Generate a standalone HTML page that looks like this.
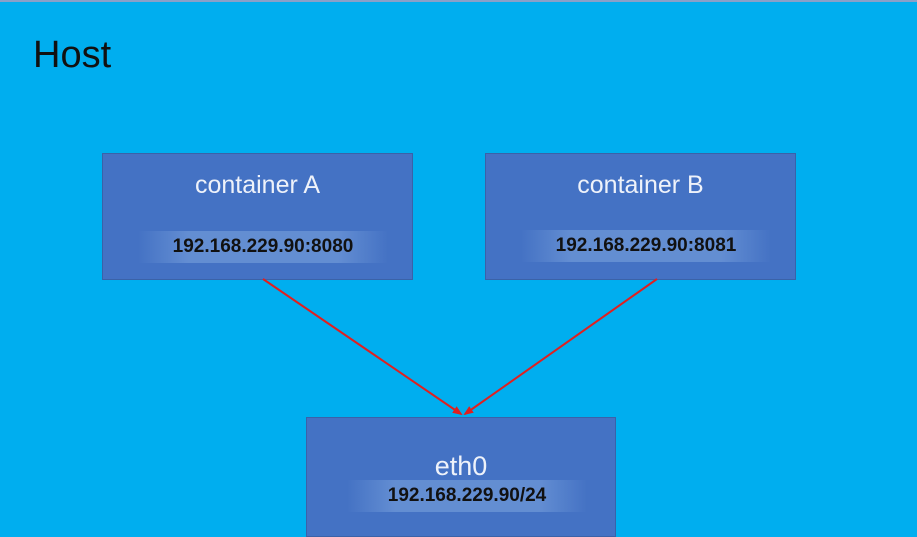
<!DOCTYPE html>
<html><head><style>
body{margin:0;width:917px;height:535px;overflow:hidden;background:#00aeef;font-family:"Liberation Sans",sans-serif;position:relative}
.top{position:absolute;left:0;top:0;width:917px;height:2px;background:#8aa0c8}
.host{position:absolute;left:33px;top:34px;font-size:38px;color:#111}
.box{position:absolute;background:#4472c4;border:1px solid #3a62a8;box-sizing:border-box}
.t{position:absolute;width:100%;text-align:center;color:#eef2fa;font-size:25px}
.ip{position:absolute;text-align:center;font-weight:bold;font-size:19px;color:#111;background:linear-gradient(90deg,rgba(120,160,220,0),rgba(120,160,220,.6) 20%,rgba(120,160,220,.6) 80%,rgba(120,160,220,0));line-height:32px}
svg{position:absolute;left:0;top:0}
</style></head><body>
<div class="top"></div>
<div class="host">Host</div>
<div class="box" style="left:102px;top:153px;width:311px;height:127px">
 <div class="t" style="top:17px">container A</div>
 <div class="ip" style="left:35px;width:250px;top:77px">192.168.229.90:8080</div>
</div>
<div class="box" style="left:485px;top:153px;width:311px;height:127px">
 <div class="t" style="top:17px">container B</div>
 <div class="ip" style="left:35px;width:250px;top:76px">192.168.229.90:8081</div>
</div>
<div class="box" style="left:306px;top:417px;width:310px;height:120px">
 <div class="t" style="top:33px;font-size:27px">eth0</div>
 <div class="ip" style="left:40px;width:240px;top:62px">192.168.229.90/24</div>
</div>
<svg width="917" height="535">
<defs><marker id="a" markerWidth="5" markerHeight="5" refX="4" refY="2.5" orient="auto"><path d="M0,0.5 L5,2.5 L0,4.5z" fill="#e02020"/></marker></defs>
<line x1="263" y1="279" x2="461" y2="414" stroke="#e02020" stroke-width="2" marker-end="url(#a)"/>
<line x1="657" y1="279" x2="465" y2="414" stroke="#e02020" stroke-width="2" marker-end="url(#a)"/>
</svg>
</body></html>
